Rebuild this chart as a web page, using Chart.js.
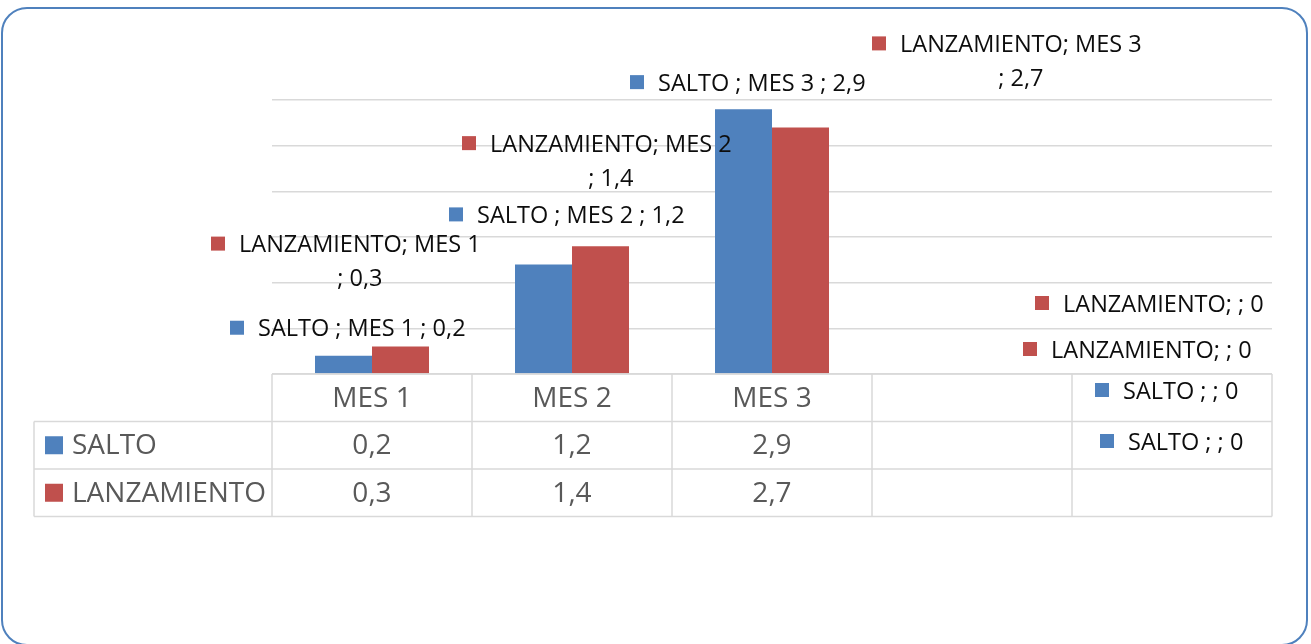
<!DOCTYPE html>
<html>
<head>
<meta charset="utf-8">
<script src="https://cdn.jsdelivr.net/npm/chart.js@4.4.1/dist/chart.umd.min.js"></script>
<style>
  html, body { margin: 0; padding: 0; background: #fff; overflow: hidden; }
  #wrap { position: relative; width: 1311px; height: 644px; }
  #chart { position: absolute; left: 0; top: 0; }
  #frame { position: absolute; left: 1px; top: 7px; width: 1307px; height: 639px; box-sizing: border-box;
           border: 2px solid #4f81bd; border-radius: 26px; pointer-events: none; }
</style>
</head>
<body>
<div id="wrap">
  <canvas id="chart" width="1311" height="644"></canvas>
  <div id="frame"></div>
</div>
<script>
// ---- data ----
const categories = ['MES 1', 'MES 2', 'MES 3', '', ''];
const salto = [0.2, 1.2, 2.9, null, null];
const lanzamiento = [0.3, 1.4, 2.7, null, null];
const seriesNames = ['SALTO', 'LANZAMIENTO'];
const seriesColors = ['#4f81bd', '#c0504d'];
const yMin = 0, yMax = 3, yStep = 0.5;

// label placement: [dx, dy, wrapped] from the top centre of each bar
const labelOffsets = [
  [[-113.5, -28, false], [-94.5, -50, false], [-113.5, -27, false], [151.5, 16, false], [-43.5, 67, false]],
  [[-189.5, -103, true], [-138.5, -103, true], [71.5, -84, true], [34.5, -71, false], [-177.5, -25, false]]
];

const fmt = v => String(v).replace('.', ',');

// ========== DATA LABELS ==========
const dataLabels = {
  id: 'dataLabels',
  afterDatasetsDraw(chart) {
    const ctx = chart.ctx, y = chart.scales.y;
    ctx.save();
    ctx.font = '23.5px "Open Sans"';
    ctx.textBaseline = 'middle';
    chart.data.datasets.forEach((ds, di) => {
      chart.getDatasetMeta(di).data.forEach((bar, i) => {
        const [dx, dy, wrap] = labelOffsets[di][i];
        const val = ds.data[i] == null ? 0 : ds.data[i];
        const topY = ds.data[i] == null ? y.getPixelForValue(0) : bar.y;
        const x0 = bar.x + dx, cy = topY + dy;
        const prefix = (di === 0 ? seriesNames[di] + ' ' : seriesNames[di]) + '; ';
        const cat = categories[i];
        ctx.fillStyle = seriesColors[di];
        ctx.fillRect(x0, cy - 7, 14, 14);
        ctx.fillStyle = '#0d0d0d';
        ctx.textAlign = 'left';
        if (wrap) {
          const l1 = prefix + cat, l2 = '; ' + fmt(val);
          const w1 = ctx.measureText(l1).width;
          ctx.fillText(l1, x0 + 28, cy + 2);
          ctx.textAlign = 'center';
          ctx.fillText(l2, x0 + 28 + w1 / 2, cy + 36);
        } else {
          ctx.fillText(prefix + (cat ? cat + ' ; ' : '; ') + fmt(val), x0 + 28, cy + 2);
        }
      });
    });
    ctx.restore();
  }
};

// ========== DATA TABLE ==========
const dataTable = {
  id: 'dataTable',
  afterDraw(chart) {
    const ctx = chart.ctx, a = chart.chartArea;
    const n = categories.length, colW = a.width / n, rowH = 47.5;
    const left = a.left - 238, y0 = a.bottom;
    ctx.save();
    ctx.strokeStyle = '#d9d9d9';
    ctx.lineWidth = 1.5;
    ctx.beginPath();
    ctx.moveTo(a.left, y0); ctx.lineTo(a.right, y0);
    for (let r = 1; r <= 3; r++) { ctx.moveTo(left, y0 + r * rowH); ctx.lineTo(a.right, y0 + r * rowH); }
    ctx.moveTo(left, y0 + rowH); ctx.lineTo(left, y0 + 3 * rowH);
    for (let k = 0; k <= n; k++) { ctx.moveTo(a.left + k * colW, y0); ctx.lineTo(a.left + k * colW, y0 + 3 * rowH); }
    ctx.stroke();

    ctx.font = '28px "Open Sans"';
    ctx.fillStyle = '#595959';
    ctx.textBaseline = 'middle';
    ctx.textAlign = 'center';
    categories.forEach((c, i) => ctx.fillText(c, chart.scales.x.getPixelForValue(i), y0 + rowH / 2 + 1));
    chart.data.datasets.forEach((ds, di) => {
      const cy = y0 + rowH * (di + 1.5);
      ctx.fillStyle = seriesColors[di];
      ctx.fillRect(left + 11, cy - 9, 18, 18);
      ctx.fillStyle = '#595959';
      ctx.textAlign = 'left';
      ctx.fillText(seriesNames[di], left + 38, cy + 1);
      ctx.textAlign = 'center';
      ds.data.forEach((v, i) => { if (v != null) ctx.fillText(fmt(v), chart.scales.x.getPixelForValue(i), cy + 1); });
    });
    ctx.restore();
  }
};

// ========== CHART ==========
new Chart(document.getElementById('chart'), {
  type: 'bar',
  data: {
    labels: categories,
    datasets: [
      { label: seriesNames[0], data: salto, backgroundColor: seriesColors[0], barPercentage: 1, categoryPercentage: 0.57 },
      { label: seriesNames[1], data: lanzamiento, backgroundColor: seriesColors[1], barPercentage: 1, categoryPercentage: 0.57 }
    ]
  },
  options: {
    responsive: false, animation: false, devicePixelRatio: 1,
    layout: { padding: { left: 272, right: 39, top: 100, bottom: 270 } },
    plugins: { legend: { display: false }, tooltip: { enabled: false } },
    scales: {
      x: { display: false },
      y: {
        min: yMin, max: yMax,
        ticks: { display: false, stepSize: yStep },
        grid: { color: '#d9d9d9', lineWidth: 1.5, drawTicks: false },
        border: { display: false },
        afterFit: s => { s.width = 0; }
      }
    }
  },
  plugins: [dataLabels, dataTable]
});
</script>
</body>
</html>
